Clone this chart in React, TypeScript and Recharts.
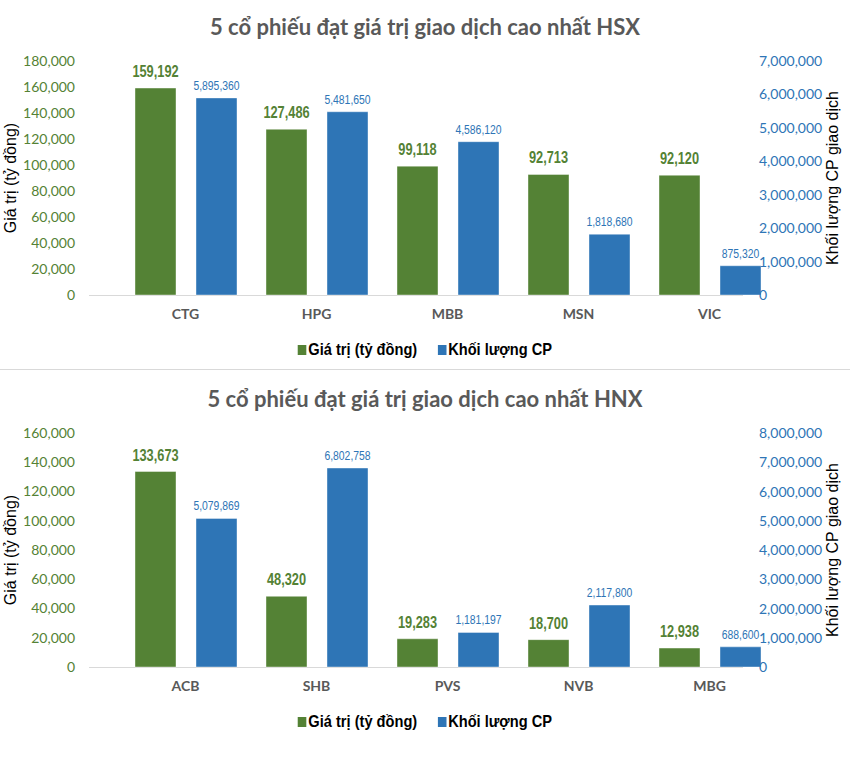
import { BarChart, Bar, XAxis, YAxis, LabelList } from 'recharts';

// HSX
const hsxCodes = ['CTG', 'HPG', 'MBB', 'MSN', 'VIC'];
const hsxValue = [159192, 127486, 99118, 92713, 92120];
const hsxVolume = [5895360, 5481650, 4586120, 1818680, 875320];
const hsxValueTicks = [0, 20000, 40000, 60000, 80000, 100000, 120000, 140000, 160000, 180000];
const hsxVolumeTicks = [0, 1000000, 2000000, 3000000, 4000000, 5000000, 6000000, 7000000];

// HNX
const hnxCodes = ['ACB', 'SHB', 'PVS', 'NVB', 'MBG'];
const hnxValue = [133673, 48320, 19283, 18700, 12938];
const hnxVolume = [5079869, 6802758, 1181197, 2117800, 688600];
const hnxValueTicks = [0, 20000, 40000, 60000, 80000, 100000, 120000, 140000, 160000];
const hnxVolumeTicks = [0, 1000000, 2000000, 3000000, 4000000, 5000000, 6000000, 7000000, 8000000];

const seriesNames = ['Giá trị (tỷ đồng)', 'Khối lượng CP'];
const GREEN = '#548235';
const BLUE = '#2E75B6';

const fmt = (v: any) => Number(v).toLocaleString('en-US');

// no narrow font installed, so squeeze the labels horizontally
const narrowLabel = (color: string, size: number, bold: boolean, gap: number) => (props: any) => {
    const { x, y, width, value } = props;
    const cx = Number(x) + Number(width) / 2;
    const by = Number(y) - gap;
    return (
        <text
            transform={`translate(${cx},${by}) scale(0.8,1)`}
            textAnchor="middle"
            fill={color}
            fontSize={size}
            fontWeight={bold ? 700 : 400}
            fontFamily="Liberation Sans"
        >
            {fmt(value)}
        </text>
    );
};

const RightTick = ({ x, y, payload }: any) => (
    <text x={x - 16} y={y} dy={5} textAnchor="start" fill={BLUE} fontSize={14} fontFamily="Lato">
        {fmt(payload.value)}
    </text>
);

interface PanelProps {
    title: string;
    codes: string[];
    values: number[];
    volumes: number[];
    valueTicks: number[];
    volumeTicks: number[];
    top: number;
    height: number;
    plotTop: number;
}

function Panel({ title, codes, values, volumes, valueTicks, volumeTicks, top, height, plotTop }: PanelProps) {
    const data = codes.map((code, i) => ({ code, value: values[i], volume: volumes[i] }));
    const plotBottom = plotTop + 234;

    return (
        <div style={{ position: 'absolute', left: 0, top, width: 850, height, fontFamily: 'Lato' }}>
            <div style={{
                position: 'absolute', left: 0, width: 850, top: plotTop - 48, lineHeight: '28px',
                textAlign: 'center', fontSize: 22, fontWeight: 700, color: '#595959'
            }}>
                {title}
            </div>
            <div style={{ position: 'absolute', left: 89, width: 654, top: plotBottom, height: 1, background: '#d9d9d9' }} />
            <BarChart
                width={850}
                height={height}
                data={data}
                margin={{ top: plotTop, right: 0, bottom: height - plotBottom - 30, left: 0 }}
                barSize={41}
                barGap={20}
            >
                <XAxis
                    dataKey="code"
                    interval={0}
                    axisLine={false}
                    tickLine={false}
                    tickSize={0}
                    tickMargin={14}
                    height={30}
                    tick={{ fill: '#595959', fontSize: 14, fontWeight: 700 }}
                />
                <YAxis
                    yAxisId="left"
                    orientation="left"
                    width={120}
                    domain={[0, valueTicks[valueTicks.length - 1]]}
                    ticks={valueTicks}
                    interval={0}
                    axisLine={false}
                    tickLine={false}
                    tickSize={0}
                    tickMargin={45}
                    tickFormatter={fmt}
                    tick={{ fill: GREEN, fontSize: 14 }}
                    label={{
                        value: 'Giá trị (tỷ đồng)', angle: -90, position: 'insideLeft', offset: 10,
                        style: { textAnchor: 'middle', fill: '#000', fontSize: 16, fontFamily: 'Liberation Sans' }
                    }}
                />
                <YAxis
                    yAxisId="right"
                    orientation="right"
                    width={75}
                    domain={[0, volumeTicks[volumeTicks.length - 1]]}
                    ticks={volumeTicks}
                    interval={0}
                    axisLine={false}
                    tickLine={false}
                    tickSize={0}
                    tickMargin={0}
                    tick={<RightTick />}
                    label={{
                        value: 'Khối lượng CP giao dịch', angle: -90, position: 'insideRight', offset: 18,
                        style: { textAnchor: 'middle', fill: '#000', fontSize: 16, fontFamily: 'Liberation Sans' }
                    }}
                />
                <Bar yAxisId="left" dataKey="value" name={seriesNames[0]} fill={GREEN} stroke="#ffffff" strokeOpacity={0.4} isAnimationActive={false}>
                    <LabelList dataKey="value" content={narrowLabel(GREEN, 16, true, 11)} />
                </Bar>
                <Bar yAxisId="right" dataKey="volume" name={seriesNames[1]} fill={BLUE} stroke="#ffffff" strokeOpacity={0.4} isAnimationActive={false}>
                    <LabelList dataKey="volume" content={narrowLabel(BLUE, 13, false, 8)} />
                </Bar>
            </BarChart>
            <div style={{
                position: 'absolute', left: 0, width: 850, top: plotBottom + 44, height: 22,
                display: 'flex', justifyContent: 'center', alignItems: 'center',
                transform: 'scaleX(0.86)',
                fontFamily: 'Liberation Sans', fontSize: 17, fontWeight: 700, color: '#000'
            }}>
                {seriesNames.map((name, i) => (
                    <div key={name} style={{ display: 'flex', alignItems: 'center', marginRight: i === 0 ? 24 : 0 }}>
                        <span style={{ width: 10, height: 10, background: i === 0 ? GREEN : BLUE, marginRight: 2, display: 'inline-block' }} />
                        <span>{name}</span>
                    </div>
                ))}
            </div>
        </div>
    );
}

export default function App() {
    return (
        <div style={{ position: 'absolute', left: 0, top: 0, width: 850, height: 771, background: '#fff', overflow: 'hidden' }}>
            <Panel
                title="5 cổ phiếu đạt giá trị giao dịch cao nhất HSX"
                codes={hsxCodes}
                values={hsxValue}
                volumes={hsxVolume}
                valueTicks={hsxValueTicks}
                volumeTicks={hsxVolumeTicks}
                top={0}
                height={369}
                plotTop={61}
            />
            <div style={{ position: 'absolute', left: 0, width: 850, top: 369, height: 1, background: '#d9d9d9' }} />
            <Panel
                title="5 cổ phiếu đạt giá trị giao dịch cao nhất HNX"
                codes={hnxCodes}
                values={hnxValue}
                volumes={hnxVolume}
                valueTicks={hnxValueTicks}
                volumeTicks={hnxVolumeTicks}
                top={371}
                height={400}
                plotTop={62}
            />
        </div>
    );
}
